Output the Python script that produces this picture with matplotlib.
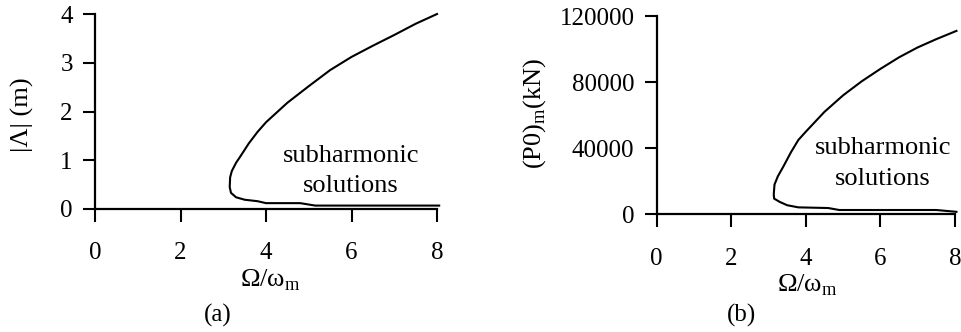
import matplotlib
matplotlib.use('Agg')
import matplotlib.pyplot as plt

plt.rcParams['font.family'] = ['Liberation Serif', 'DejaVu Serif']
plt.rcParams['mathtext.fontset'] = 'custom'
plt.rcParams['mathtext.rm'] = 'Liberation Serif'
plt.rcParams['font.size'] = 18

# (a) amplitude |Λ| vs frequency ratio, traced from lower branch to upper branch
a_x = [8.05, 5.15, 4.8, 4.0, 3.8, 3.5, 3.3, 3.18, 3.15, 3.16, 3.2, 3.3, 3.4,
       3.6, 3.8, 4.0, 4.5, 5.0, 5.5, 6.0, 6.5, 7.0, 7.5, 8.0]
a_y = [0.07, 0.07, 0.12, 0.12, 0.16, 0.19, 0.24, 0.33, 0.45, 0.65, 0.78, 0.95,
       1.08, 1.35, 1.58, 1.78, 2.18, 2.52, 2.85, 3.12, 3.35, 3.57, 3.8, 4.0]

# (b) force amplitude (P0)m in kN
b_x = [8.04, 7.5, 4.9, 4.6, 3.8, 3.5, 3.3, 3.15, 3.14, 3.16, 3.25, 3.4,
       3.6, 3.8, 4.0, 4.5, 5.0, 5.5, 6.0, 6.5, 7.0, 7.5, 8.04]
b_y = [1500, 2600, 2600, 3800, 4200, 5500, 7500, 9500, 12000, 18000, 23000, 29000,
       37500, 45000, 50000, 62000, 72000, 80500, 88000, 95000, 101000, 106000, 111000]

x_ticks = [0, 2, 4, 6, 8]
a_ticks = [0, 1, 2, 3, 4]
b_ticks = [0, 40000, 80000, 120000]

fig = plt.figure(figsize=(9.62, 3.32), dpi=100)
ax1 = fig.add_axes([0.0988, 0.3705, 0.3555, 0.5873])
ax2 = fig.add_axes([0.6826, 0.3545, 0.3101, 0.5973])

for ax, xs, ys, yt in [(ax1, a_x, a_y, a_ticks), (ax2, b_x, b_y, b_ticks)]:
    ax.plot(xs, ys, color='black', lw=1.5, clip_on=False)
    ax.set_xlim(0, 8)
    ax.set_ylim(yt[0], yt[-1])
    ax.set_xticks(x_ticks)
    ax.set_yticks(yt)
    ax.spines['top'].set_visible(False)
    ax.spines['right'].set_visible(False)
    ax.spines['left'].set_linewidth(1.6)
    ax.spines['bottom'].set_linewidth(1.6)
    ax.tick_params(axis='x', direction='out', length=9, width=1.5, pad=15)
    ax.tick_params(axis='y', direction='out', length=9, width=1.5, pad=7)

ax1.text(5.99, 0.78, 'subharmonic\nsolutions', ha='center', va='center',
         multialignment='center', linespacing=1.5, fontsize=19)
ax2.text(6.07, 30700, 'subharmonic\nsolutions', ha='center', va='center',
         multialignment='center', linespacing=1.5, fontsize=19)

ax1.text(0.512, -0.364, 'Ω/ω$_\\mathrm{m}$', transform=ax1.transAxes,
         ha='center', va='center', fontsize=19)
ax2.text(0.504, -0.357, 'Ω/ω$_\\mathrm{m}$', transform=ax2.transAxes,
         ha='center', va='center', fontsize=19)

fig.text(22 / 962, 1 - 115 / 332, '|Λ| (m)', rotation=90, ha='center', va='center',
         fontsize=19)
fig.text(535 / 962, 1 - 113 / 332, '(P0)$_\\mathrm{m}$(kN)', rotation=90,
         ha='center', va='center', fontsize=19)

fig.text(218 / 962, 1 - 315 / 332, '(a)', ha='center', va='center')
fig.text(742 / 962, 1 - 315 / 332, '(b)', ha='center', va='center')

fig.savefig('out.png', dpi=100)
